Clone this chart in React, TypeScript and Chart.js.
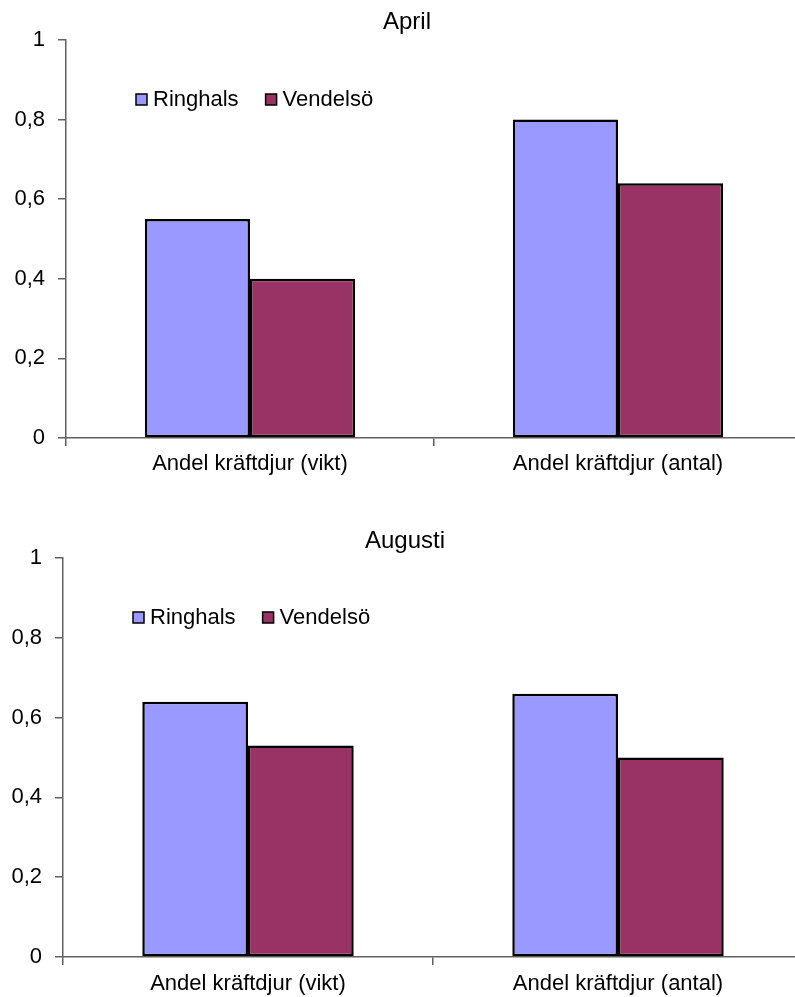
import React, { useEffect, useRef } from "react";
import { Chart, registerables } from "chart.js";

Chart.register(...registerables);

// Categories and series
const categories = ["Andel kräftdjur (vikt)", "Andel kräftdjur (antal)"];
const seriesNames = ["Ringhals", "Vendelsö"];
const seriesColors = ["#9999FF", "#993366"];

// Shares per month
const aprilRinghals = [0.55, 0.8];
const aprilVendelso = [0.4, 0.64];
const augustiRinghals = [0.64, 0.66];
const augustiVendelso = [0.53, 0.5];

// Y axis ticks (Swedish decimal comma)
const yTickValues = [0, 0.2, 0.4, 0.6, 0.8, 1];
const yTickLabels = ["0", "0,2", "0,4", "0,6", "0,8", "1"];

const FONT = "'Liberation Sans', Arial, sans-serif";
const AXIS_COLOR = "#606060";

// Legend drawn inside the plot area, top-left
const insideLegend = {
  id: "insideLegend",
  afterDraw(chart: any, _args: any, opts: any) {
    const { ctx, chartArea } = chart;
    let x = chartArea.left + opts.offsetX;
    const y = chartArea.top + opts.offsetY;
    const box = 11;
    ctx.save();
    ctx.font = `22px ${FONT}`;
    ctx.textBaseline = "middle";
    ctx.textAlign = "left";
    chart.data.datasets.forEach((ds: any) => {
      ctx.fillStyle = ds.backgroundColor;
      ctx.fillRect(x, y - box / 2, box, box);
      ctx.strokeStyle = "#000";
      ctx.lineWidth = 1.5;
      ctx.strokeRect(x, y - box / 2, box, box);
      x += box + 6;
      ctx.fillStyle = "#000";
      ctx.fillText(ds.label, x, y);
      x += ctx.measureText(ds.label).width + 27;
    });
    ctx.restore();
  },
};

type PanelProps = {
  title: string;
  ringhals: number[];
  vendelso: number[];
  width: number;
  height: number;
  padLeft: number;
  padRight: number;
  yAxisWidth: number;
  titlePadTop: number;
  titlePadBottom: number;
  xAxisHeight: number;
  xLabelPad: number;
};

function BarPanel(p: PanelProps) {
  const ref = useRef<HTMLCanvasElement | null>(null);

  useEffect(() => {
    if (!ref.current) return;
    const chart = new Chart(ref.current, {
      type: "bar",
      data: {
        labels: categories,
        datasets: [
          {
            label: seriesNames[0],
            data: p.ringhals,
            backgroundColor: seriesColors[0],
            borderColor: "#000",
            borderWidth: 2.5,
            borderSkipped: false,
          },
          {
            label: seriesNames[1],
            data: p.vendelso,
            backgroundColor: seriesColors[1],
            borderColor: "#000",
            borderWidth: 2.5,
            borderSkipped: false,
          },
        ],
      },
      options: {
        responsive: false,
        animation: false,
        devicePixelRatio: 1,
        layout: { padding: { left: p.padLeft, right: p.padRight, top: 0, bottom: 0 } },
        datasets: {
          bar: { categoryPercentage: 2 / 3.5, barPercentage: 1, inflateAmount: 0 },
        },
        plugins: {
          legend: { display: false },
          tooltip: { enabled: false },
          title: {
            display: true,
            text: p.title,
            color: "#000",
            font: { family: FONT, size: 24, weight: "normal", lineHeight: 1.2 },
            padding: { top: p.titlePadTop, bottom: p.titlePadBottom },
          },
          insideLegend: { offsetX: 70, offsetY: 59.5 },
        } as any,
        scales: {
          x: {
            offset: true,
            grid: {
              offset: true,
              drawOnChartArea: false,
              drawTicks: true,
              tickLength: 8,
              color: AXIS_COLOR,
              lineWidth: 1.5,
            },
            border: { display: true, color: AXIS_COLOR, width: 1.5 },
            ticks: {
              color: "#000",
              padding: p.xLabelPad,
              font: { family: FONT, size: 22, lineHeight: 1.2 },
              maxRotation: 0,
              autoSkip: false,
            },
            afterFit: (scale: any) => {
              scale.height = p.xAxisHeight;
            },
          },
          y: {
            min: 0,
            max: 1,
            grid: {
              drawOnChartArea: false,
              drawTicks: true,
              tickLength: 8,
              color: AXIS_COLOR,
              lineWidth: 1.5,
            },
            border: { display: true, color: AXIS_COLOR, width: 1.5 },
            afterBuildTicks: (scale: any) => {
              scale.ticks = yTickValues.map((v) => ({ value: v }));
            },
            ticks: {
              color: "#000",
              padding: 13,
              font: { family: FONT, size: 22, lineHeight: 1.2 },
              callback: (value: any) => {
                const i = yTickValues.findIndex((v) => Math.abs(v - Number(value)) < 1e-9);
                return i >= 0 ? yTickLabels[i] : "";
              },
            },
            afterFit: (scale: any) => {
              scale.width = p.yAxisWidth;
            },
          },
        },
      } as any,
      plugins: [insideLegend as any],
    });
    return () => chart.destroy();
  }, []);

  return (
    <canvas
      ref={ref}
      width={p.width}
      height={p.height}
      style={{ display: "block", width: p.width, height: p.height }}
    />
  );
}

export default function App() {
  return (
    <div
      style={{
        position: "absolute",
        left: 0,
        top: 0,
        width: 795,
        height: 997,
        overflow: "hidden",
        background: "#fff",
      }}
    >
      <BarPanel
        title="April"
        ringhals={aprilRinghals}
        vendelso={aprilVendelso}
        width={810}
        height={500}
        padLeft={12}
        padRight={8}
        yAxisWidth={54}
        titlePadTop={8}
        titlePadBottom={3.2}
        xAxisHeight={62}
        xLabelPad={5}
      />
      <BarPanel
        title="Augusti"
        ringhals={augustiRinghals}
        vendelso={augustiVendelso}
        width={810}
        height={497}
        padLeft={7}
        padRight={7}
        yAxisWidth={56}
        titlePadTop={27}
        titlePadBottom={2.2}
        xAxisHeight={40}
        xLabelPad={6}
      />
    </div>
  );
}
